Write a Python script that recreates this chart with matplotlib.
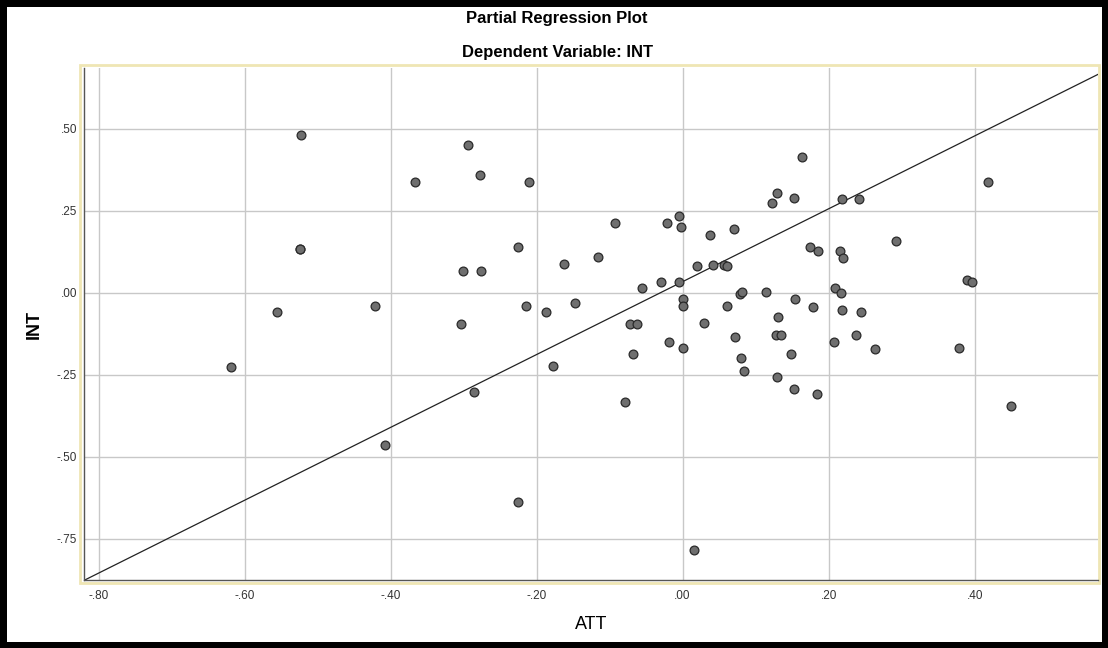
import matplotlib.pyplot as plt
from matplotlib.patches import Rectangle
from matplotlib.ticker import FuncFormatter

plt.rcParams['font.family'] = ['Liberation Sans', 'DejaVu Sans']

# partial residuals
att = [-0.523, -0.366, -0.524, -0.524, -0.556, -0.422, -0.619, -0.408,
       -0.294, -0.277, -0.211, -0.092, -0.021, -0.005, -0.002, 0.038, 0.070,
       -0.226, -0.301, -0.276, -0.163, -0.116, 0.020, 0.042, 0.057, 0.061,
       -0.056, -0.030, -0.005, 0.078, 0.081, -0.215, -0.187, -0.147, 0.001,
       0.001, 0.061, -0.304, -0.072, -0.062, 0.029, 0.072, -0.019, 0.001,
       -0.068, -0.178, 0.080, 0.084, -0.286, -0.079, -0.225, 0.016,
       0.163, 0.129, 0.123, 0.152, 0.218, 0.242, 0.419, 0.292, 0.174, 0.186,
       0.216, 0.220, 0.390, 0.396, 0.114, 0.209, 0.217, 0.154, 0.178, 0.218,
       0.245, 0.131, 0.128, 0.135, 0.237, 0.207, 0.263, 0.379, 0.148, 0.129,
       0.153, 0.184, 0.450]
int_ = [0.481, 0.339, 0.135, 0.135, -0.059, -0.039, -0.226, -0.463,
        0.450, 0.360, 0.339, 0.213, 0.213, 0.233, 0.201, 0.176, 0.194,
        0.140, 0.068, 0.066, 0.089, 0.108, 0.083, 0.086, 0.086, 0.083,
        0.016, 0.033, 0.034, -0.004, 0.001, -0.040, -0.059, -0.030, -0.019,
        -0.040, -0.040, -0.095, -0.094, -0.094, -0.093, -0.134, -0.150, -0.168,
        -0.185, -0.223, -0.200, -0.239, -0.301, -0.333, -0.636, -0.785,
        0.414, 0.305, 0.273, 0.289, 0.286, 0.286, 0.339, 0.159, 0.140, 0.127,
        0.128, 0.106, 0.038, 0.033, 0.004, 0.015, -0.001, -0.020, -0.042, -0.053,
        -0.059, -0.073, -0.129, -0.129, -0.127, -0.150, -0.170, -0.167, -0.185, -0.257,
        -0.293, -0.307, -0.346]

fit_slope = 1.11
fit_intercept = 0.034

x_ticks = [-0.8, -0.6, -0.4, -0.2, 0.0, 0.2, 0.4]
y_ticks = [-0.75, -0.5, -0.25, 0.0, 0.25, 0.5]
x_lim = (-0.82, 0.569)
y_lim = (-0.875, 0.685)

W, H = 1108, 648
fig = plt.figure(figsize=(W / 100, H / 100), dpi=100, facecolor='black')
fig.patches.append(Rectangle((7 / W, 6 / H), (W - 13) / W, (H - 13) / H,
                             transform=fig.transFigure, facecolor='white',
                             edgecolor='none', zorder=-2))
# yellowish frame round the plot area
fig.patches.append(Rectangle((80 / W, 65 / H), 1019 / W, 518 / H,
                             transform=fig.transFigure, facecolor='none',
                             edgecolor='#efe6b4', lw=2, zorder=-1))

ax = fig.add_axes([84 / W, 68 / H, 1014 / W, 512 / H])
ax.set_xlim(*x_lim)
ax.set_ylim(*y_lim)
ax.set_xticks(x_ticks)
ax.set_yticks(y_ticks)


def fmt(v, pos):
    s = f"{v:.2f}"
    if s in ("0.00", "-0.00"):
        return ".00"
    return s.replace("0.", ".", 1)


ax.xaxis.set_major_formatter(FuncFormatter(fmt))
ax.yaxis.set_major_formatter(FuncFormatter(fmt))
ax.tick_params(length=0, labelsize=8.5, colors='#333333')
ax.tick_params(axis='x', pad=7)
ax.tick_params(axis='y', pad=5)
ax.grid(True, color='#c8c8c8', lw=1)
ax.set_axisbelow(True)
for side in ('top', 'right'):
    ax.spines[side].set_visible(False)
for side in ('left', 'bottom'):
    ax.spines[side].set_color('#555555')
    ax.spines[side].set_linewidth(1)

ax.scatter(att, int_, s=40, color='#6f6f6f', edgecolors='#2a2a2a',
           linewidths=0.9, zorder=3)
ax.axline((0, fit_intercept), slope=fit_slope, color='#222222', lw=0.9, zorder=2)

ax.set_xlabel('ATT', fontsize=13, labelpad=10)
ax.set_ylabel('INT', fontsize=13, fontweight='bold', labelpad=10)

fig.text(557 / W, 1 - 18 / H, 'Partial Regression Plot', ha='center',
         va='center', fontsize=12, fontweight='bold')
fig.text(557 / W, 1 - 52 / H, 'Dependent Variable: INT', ha='center',
         va='center', fontsize=12, fontweight='bold')

fig.savefig('out.png', dpi=100, facecolor=fig.get_facecolor())
